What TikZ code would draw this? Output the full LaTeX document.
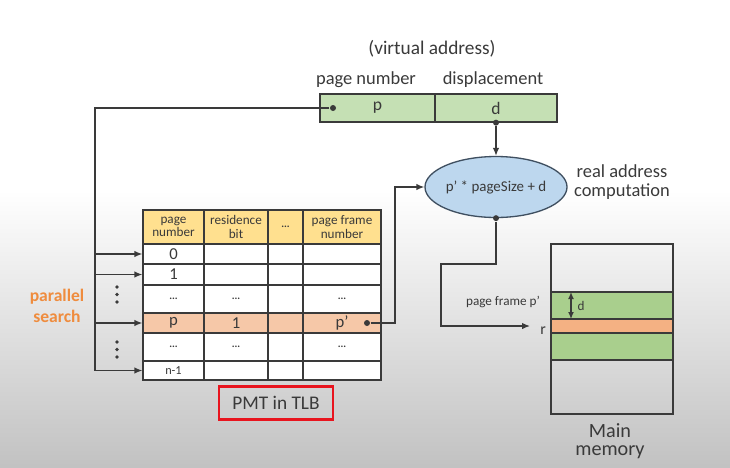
\documentclass[tikz,border=0pt]{standalone}
\usepackage{fontspec}
\setmainfont{Carlito}
\usepackage{tikz}
\usetikzlibrary{arrows.meta,positioning,calc,shapes.geometric}

\definecolor{lincol}{HTML}{3A3A3A}
\definecolor{vagreen}{HTML}{C5E0B4}
\definecolor{memgreen}{HTML}{A9CF8D}
\definecolor{memorange}{HTML}{F4B183}
\definecolor{rowp}{HTML}{F6C8A8}
\definecolor{hdr}{HTML}{FFE08F}
\definecolor{ellblue}{HTML}{BDD7EE}
\definecolor{ellborder}{HTML}{3F4F60}
\definecolor{psorange}{HTML}{EF8C3E}
\definecolor{pmtred}{HTML}{E8141E}

\newcommand{\el}{{\bfseries\fontsize{6}{6}\selectfont ...}}
% one row of the TLB table: name, top, bottom, options, four texts
\newcommand{\tlbrow}[8]{%
  \node[cell, #4, minimum width=1.22cm, minimum height={(#3-#2)*0.02cm}] (#1-1) at (173.5,{(#2+#3)/2}) {#5};
  \node[cell, #4, minimum width=1.28cm, minimum height={(#3-#2)*0.02cm}] (#1-2) at (236,{(#2+#3)/2}) {#6};
  \node[cell, #4, minimum width=0.70cm, minimum height={(#3-#2)*0.02cm}] (#1-3) at (285.5,{(#2+#3)/2}) {#7};
  \node[cell, #4, minimum width=1.56cm, minimum height={(#3-#2)*0.02cm}] (#1-4) at (342,{(#2+#3)/2}) {#8};
}

\begin{document}
\begin{tikzpicture}[x=0.02cm, y=-0.02cm, line width=0.75pt, color=lincol,
  cell/.style={draw, fill=white, inner sep=0pt, align=center, font=\fontsize{9.5}{10}\selectfont},
  hcell/.style={fill=hdr, font=\fontsize{7.5}{7.5}\selectfont},
  vabox/.style={draw, fill=vagreen, minimum height=0.56cm, inner sep=0pt, font=\fontsize{10}{12}\selectfont},
  dot/.style={circle, fill, inner sep=0pt, minimum size=1.2mm},
  arr/.style={-{Latex[length=1.6mm,width=1.3mm]}},
  dim/.style={{Latex[length=1.4mm,width=1.2mm]}-{Latex[length=1.4mm,width=1.2mm]}}]
  \useasboundingbox (0,0) rectangle (730,467);
  \fill[white] (0,0) rectangle (730,467);
  \shade[top color=white, bottom color=black!24] (0,190) rectangle (730,467);

  % virtual address
  \node[font=\fontsize{11}{13}\selectfont] (vatitle) at (432,49) {(virtual address)};
  \node[font=\fontsize{10.5}{12}\selectfont] (pnlab) at (366,80) {page number};
  \node[font=\fontsize{10.5}{12}\selectfont] (dislab) at (493,80) {displacement};
  \node[vabox, minimum width=2.30cm] (vp) at (377.5,108) {p};
  \node[vabox, minimum width=2.44cm] (vd) at (496,108) {d};
  \node[dot] (pdot) at (333,108) {};
  \node[dot] (ddot) at (vd.south) {};

  % real address computation
  \node[ellipse, draw=ellborder, fill=ellblue, minimum width=2.74cm, minimum height=1.22cm,
        inner sep=0pt, font=\fontsize{8.5}{10}\selectfont] (calc) at (496,187) {p’ * pageSize + d};
  \node[align=center, font=\fontsize{10.5}{11}\selectfont] (ralab) at (622,182) {real address\\computation};
  \node[dot] (cdot) at (calc.south) {};
  \draw[arr] (ddot) -- (calc.north);

  % PMT in TLB
  \tlbrow{rh}{210}{244}{hcell}{page\\number}{residence\\bit}{\el}{page frame\\number}
  \tlbrow{r0}{244}{264}{}{0}{}{}{}
  \tlbrow{r1}{264}{285}{}{1}{}{}{}
  \tlbrow{ra}{285}{313}{}{\el}{\el}{}{\el}
  \tlbrow{rp}{313}{333}{fill=rowp}{p}{1}{}{p’}
  \tlbrow{rb}{333}{361}{}{\el}{\el}{}{\el}
  \tlbrow{rn}{361}{380}{font=\fontsize{7}{8}\selectfont}{n-1}{}{}{}
  \node[dot] (pfdot) at (367,323) {};

  \node[draw=pmtred, line width=1.6pt, minimum width=2.28cm, minimum height=0.66cm, inner sep=0pt,
        font=\fontsize{11}{13}\selectfont] (pmt) at (276,403) {PMT in TLB};

  % parallel search
  \node[align=center, text=psorange, font=\bfseries\fontsize{10}{12}\selectfont] (ps) at (57,306) {parallel\\search};
  \foreach \y in {287,294.5,302,342,349.5,357}
    \fill (117,\y) circle (1.1pt);
  \coordinate (bus) at (95,108);
  \draw[arr] (pdot) -- (bus) |- (rn-1.west);
  \foreach \r in {r0,r1,rp}
    \draw[arr] (bus |- \r-1.west) -- (\r-1.west);
  \draw[arr] (pfdot) -- ++(28,0) |- (calc.west);

  % main memory
  \filldraw[fill=memgreen] (551,292) rectangle (673,360);
  \filldraw[fill=memorange] (551,319) rectangle (673,333);
  \node[draw, minimum width=2.44cm, minimum height=3.40cm, inner sep=0pt] (mem) at (612,329) {};
  \node[align=center, font=\fontsize{11.5}{10.5}\selectfont] (memlab) at (610,441) {Main\\memory};
  \coordinate (ftop) at (571,292);
  \coordinate (foff) at (571,319);
  \draw[dim] (ftop) -- (foff) node[midway, right, font=\fontsize{7.5}{9}\selectfont] (dlab) {d};
  \node[font=\fontsize{7.5}{9}\selectfont] (pflab) at (503,302) {page frame p’};
  \coordinate (rtip) at (530,326);
  \node[font=\fontsize{9}{10}\selectfont] (rlab) at (543,331) {r};
  \draw[arr] (cdot) |- (441,264) |- (rtip);
\end{tikzpicture}
\end{document}
